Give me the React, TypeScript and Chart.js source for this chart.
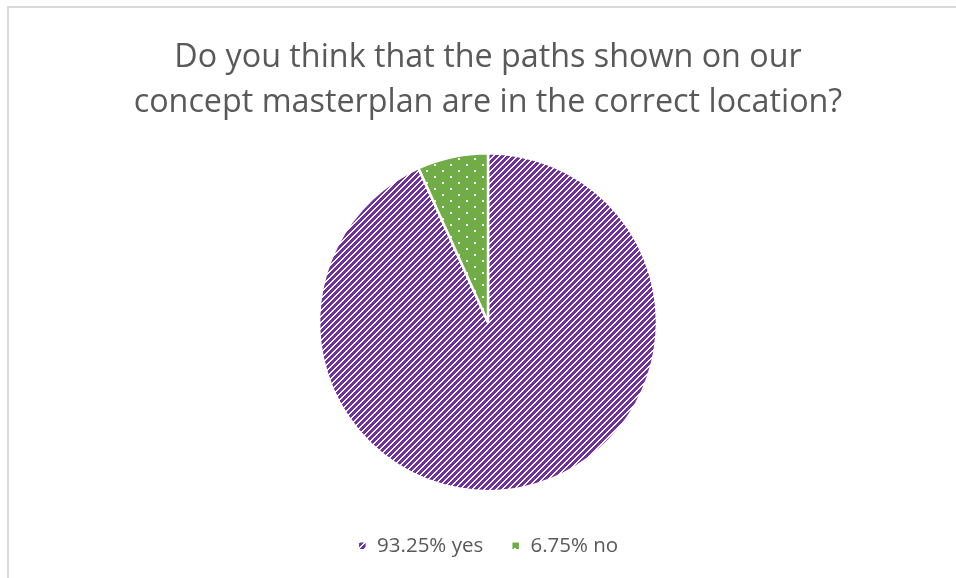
import React, { useEffect, useRef } from "react";
import { Chart, registerables } from "chart.js";

Chart.register(...registerables);

const titleLines = ["Do you think that the paths shown on our", "concept masterplan are in the correct location?"];
const categories = ["93.25% yes", "6.75% no"];
const values = [93.25, 6.75];
const purple = "#7030a0";
const green = "#70ad47";

function stripePattern(ctx: CanvasRenderingContext2D): CanvasPattern | string {
  const c = document.createElement("canvas");
  c.width = 6;
  c.height = 6;
  const g = c.getContext("2d");
  if (!g) return purple;
  const img = g.createImageData(6, 6);
  for (let y = 0; y < 6; y++) {
    for (let x = 0; x < 6; x++) {
      const i = (y * 6 + x) * 4;
      const on = (x + y) % 6 < 4;
      img.data[i] = on ? 0x70 : 255;
      img.data[i + 1] = on ? 0x30 : 255;
      img.data[i + 2] = on ? 0xa0 : 255;
      img.data[i + 3] = 255;
    }
  }
  g.putImageData(img, 0, 0);
  return ctx.createPattern(c, "repeat") || purple;
}

function dotPattern(ctx: CanvasRenderingContext2D): CanvasPattern | string {
  const c = document.createElement("canvas");
  c.width = 16;
  c.height = 12;
  const g = c.getContext("2d");
  if (!g) return green;
  g.fillStyle = green;
  g.fillRect(0, 0, 16, 12);
  g.fillStyle = "#ffffff";
  g.fillRect(2, 2, 2, 2);
  g.fillRect(10, 8, 2, 2);
  return ctx.createPattern(c, "repeat") || green;
}

export default function App() {
  const ref = useRef<HTMLCanvasElement | null>(null);
  useEffect(() => {
    const canvas = ref.current;
    if (!canvas) return;
    const ctx = canvas.getContext("2d");
    if (!ctx) return;
    const chart = new Chart(canvas, {
      type: "pie",
      data: {
        labels: categories,
        datasets: [
          {
            data: values,
            backgroundColor: [stripePattern(ctx), dotPattern(ctx)],
            borderColor: "#ffffff",
            borderWidth: 2.5,
            radius: 169,
          },
        ],
      },
      options: {
        animation: false,
        responsive: false,
        maintainAspectRatio: false,
        layout: { padding: { top: 0, bottom: 12, left: 0, right: 0 } },
        plugins: {
          title: {
            display: true,
            text: titleLines,
            color: "#595959",
            font: { family: "'Open Sans', sans-serif", size: 32.3, weight: "normal", lineHeight: 1.39 },
            padding: { top: 35, bottom: 12 },
          },
          legend: {
            display: true,
            position: "bottom",
            labels: {
              color: "#595959",
              font: { family: "'Open Sans', sans-serif", size: 20.5 },
              boxWidth: 9,
              boxHeight: 9,
              padding: 28,
            },
          },
          tooltip: { enabled: false },
        },
      },
    });
    return () => chart.destroy();
  }, []);
  return (
    <div style={{ position: "fixed", left: 0, top: 0, width: 956, height: 578, background: "#fff", overflow: "hidden" }}>
      <div style={{ position: "absolute", left: 7, top: 6, width: 960, height: 600, borderTop: "2px solid #d9d9d9", borderLeft: "2px solid #d9d9d9" }} />
      <canvas ref={ref} width={960} height={578} style={{ position: "absolute", left: 8, top: 0, width: 960, height: 578 }} />
    </div>
  );
}
